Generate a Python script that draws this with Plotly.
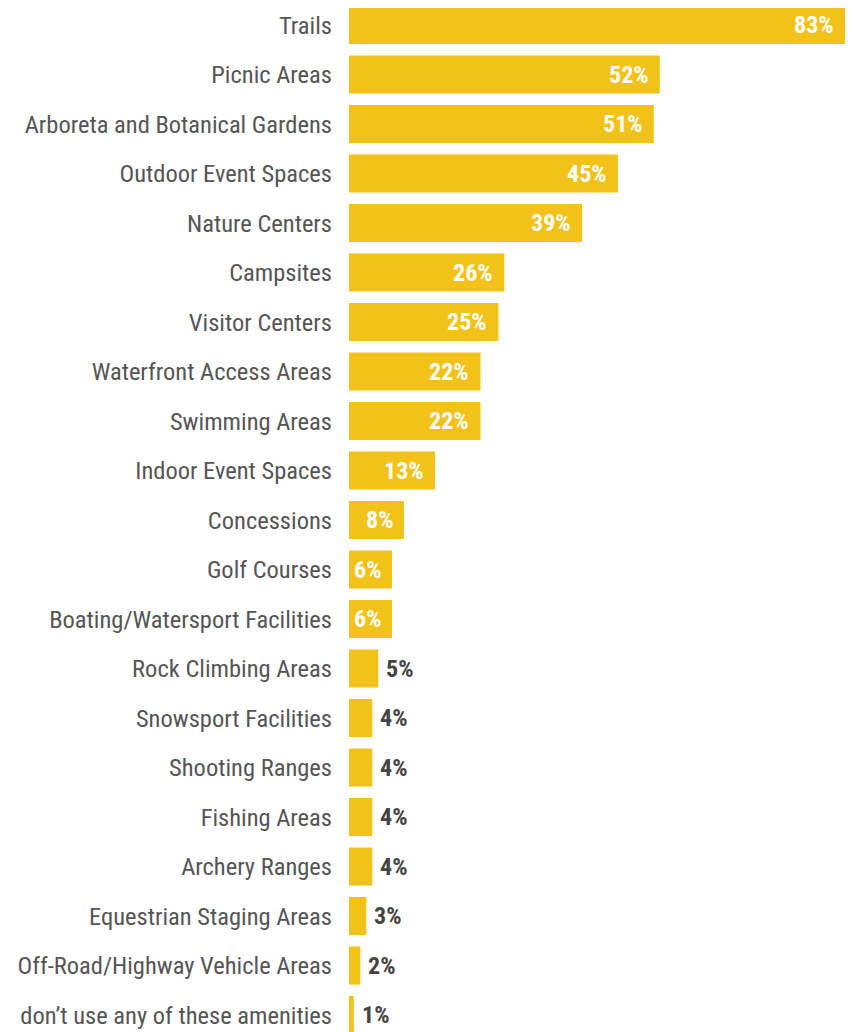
import plotly.graph_objects as go

categories = [
    "Trails", "Picnic Areas", "Arboreta and Botanical Gardens", "Outdoor Event Spaces",
    "Nature Centers", "Campsites", "Visitor Centers", "Waterfront Access Areas",
    "Swimming Areas", "Indoor Event Spaces", "Concessions", "Golf Courses",
    "Boating/Watersport Facilities", "Rock Climbing Areas", "Snowsport Facilities",
    "Shooting Ranges", "Fishing Areas", "Archery Ranges", "Equestrian Staging Areas",
    "Off-Road/Highway Vehicle Areas", "don\u2019t use any of these amenities",
]
# bar lengths as drawn (percent)
values = [83, 52, 51, 45, 39, 26, 25, 22, 22, 14.4, 9.2, 7.2, 7.2, 4.9, 3.9, 3.9, 3.9, 3.9, 2.9, 1.9, 0.8]
value_labels = ["83%", "52%", "51%", "45%", "39%", "26%", "25%", "22%", "22%", "13%", "8%", "6%", "6%",
                "5%", "4%", "4%", "4%", "4%", "3%", "2%", "1%"]
inside = [True] * 13 + [False] * 8

BAR = "#F2C21B"
LABEL_FONT = "Liberation Sans Narrow, Roboto Condensed, Arial Narrow, Roboto, sans-serif"

ypos = list(range(len(categories)))

fig = go.Figure(go.Bar(
    x=values, y=ypos, orientation="h", marker=dict(color=BAR, line=dict(width=0)),
    width=0.768, hoverinfo="skip",
))

for y, v, t, ins in zip(ypos, values, value_labels, inside):
    if ins:
        fig.add_annotation(x=v, y=y, text=t, showarrow=False, xanchor="right", xshift=-9,
                           font=dict(family=LABEL_FONT, size=24, color="white", weight="bold"))
    else:
        fig.add_annotation(x=v, y=y, text=t, showarrow=False, xanchor="left", xshift=6,
                           font=dict(family=LABEL_FONT, size=24, color="#444444", weight="bold"))

fig.update_layout(
    width=848, height=1024, margin=dict(l=341, r=11, t=0, b=0),
    paper_bgcolor="white", plot_bgcolor="white", showlegend=False,
    xaxis=dict(range=[0, 83], visible=False, fixedrange=True),
    yaxis=dict(range=[20.343, -0.3434], tickvals=ypos, ticktext=categories,
               showgrid=False, zeroline=False, showline=False, ticks="",
               ticklabelstandoff=16,
               tickfont=dict(family=LABEL_FONT, size=24.5, color="#555555")),
)

fig.write_html("out.html")
